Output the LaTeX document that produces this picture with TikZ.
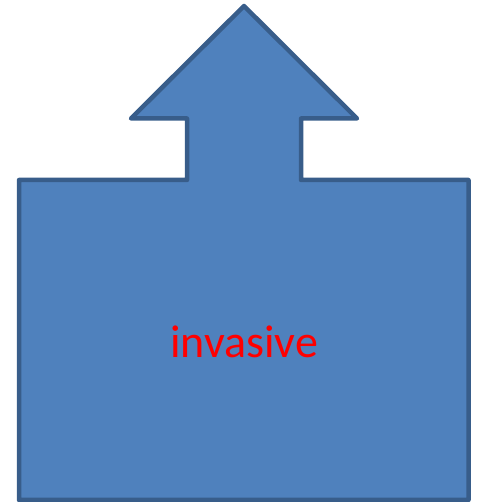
\documentclass[tikz,border=0pt]{standalone}
\usepackage{fontspec}
\setmainfont{Carlito}
\definecolor{shapefill}{HTML}{4F81BD}
\definecolor{shapeline}{HTML}{385D8A}
\begin{document}
\begin{tikzpicture}[x=1pt, y=1pt,
    blockshape/.style={line width=4.5pt, draw=shapeline, fill=shapefill, line join=round},
    blocklabel/.style={text=red, font=\fontsize{46}{55}\selectfont}]
    \useasboundingbox (0,0) rectangle (481,502);
    % Block with upward arrow
    \draw[blockshape] (19,2) -- (19,322) -- (187,322) -- (187,383.5) -- (131,383.5)
        -- (244,496) -- (357,383.5) -- (301,383.5) -- (301,322) -- (468.5,322)
        -- (468.5,2) -- cycle;
    \node[blocklabel] (invasive) at (244,160) {invasive};
\end{tikzpicture}
\end{document}
